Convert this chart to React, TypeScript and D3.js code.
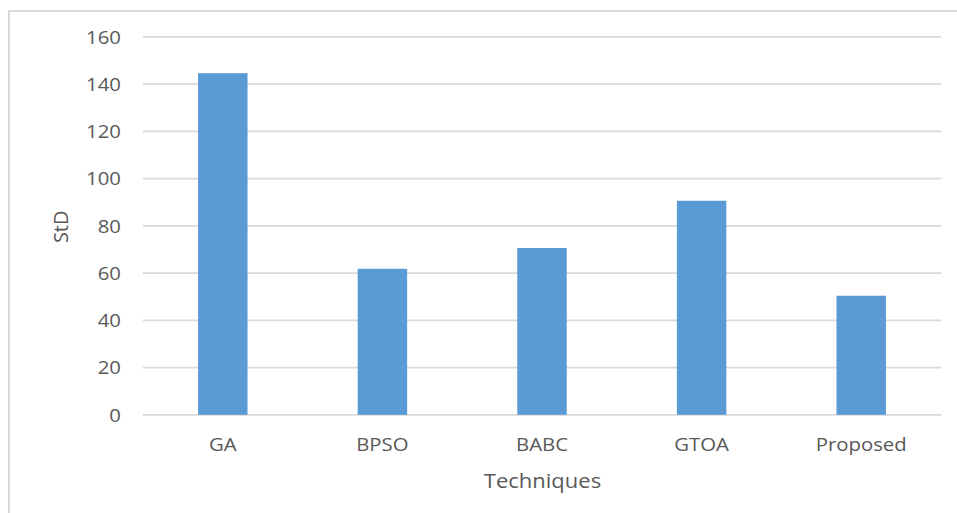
import React from "react";
import * as d3 from "d3";

// Standard deviation obtained by each technique
const techniques = ["GA", "BPSO", "BABC", "GTOA", "Proposed"];
const stdValues = [144.6, 61.8, 70.6, 90.6, 50.4];
const yTicks = [0, 20, 40, 60, 80, 100, 120, 140, 160];

const W = 957;
const H = 513;
const plot = { left: 143, right: 941, top: 36.8, bottom: 414.8 };

const FONT = "'Open Sans', 'Segoe UI', 'DejaVu Sans', sans-serif";
const TEXT = "#595959";
const GRID = "#d9d9d9";
const BAR = "#5b9bd5";

export default function App() {
  const x = d3
    .scaleBand<string>()
    .domain(techniques)
    .range([plot.left, plot.right])
    .paddingInner(0.69)
    .paddingOuter(0.345);

  const y = d3.scaleLinear().domain([0, 160]).range([plot.bottom, plot.top]);

  return (
    <svg
      width={W}
      height={H}
      style={{ position: "absolute", left: 0, top: 0, background: "#fff" }}
    >
      <rect x={0} y={0} width={W} height={H} fill="#fff" />
      {/* chart area frame */}
      <rect
        x={9}
        y={11}
        width={W + 20}
        height={H + 20}
        fill="none"
        stroke={GRID}
        strokeWidth={2}
      />

      {/* horizontal gridlines */}
      {yTicks.map((t) => (
        <line
          key={"g" + t}
          x1={plot.left}
          x2={plot.right}
          y1={y(t)}
          y2={y(t)}
          stroke={GRID}
          strokeWidth={1.8}
        />
      ))}

      {/* y tick labels */}
      {yTicks.map((t) => (
        <text
          key={"t" + t}
          transform={`translate(121,${y(t) + 6.8}) scale(1.1,1)`}
          textAnchor="end"
          fontFamily={FONT}
          fontSize={18.5}
          fill={TEXT}
        >
          {t}
        </text>
      ))}

      {/* bars */}
      {techniques.map((c, i) => (
        <rect
          key={c}
          x={x(c)}
          y={y(stdValues[i])}
          width={x.bandwidth()}
          height={y(0) - y(stdValues[i])}
          fill={BAR}
        />
      ))}

      {/* category labels */}
      {techniques.map((c) => (
        <text
          key={"c" + c}
          transform={`translate(${(x(c) as number) + x.bandwidth() / 2},450.5) scale(1.1,1)`}
          textAnchor="middle"
          fontFamily={FONT}
          fontSize={18.5}
          fill={TEXT}
        >
          {c}
        </text>
      ))}

      {/* axis titles */}
      <text
        transform={`translate(542.5,488) scale(1.1,1)`}
        textAnchor="middle"
        fontFamily={FONT}
        fontSize={20}
        fill={TEXT}
      >
        Techniques
      </text>
      <text
        transform={`translate(68,${(plot.top + plot.bottom) / 2 + 1}) rotate(-90)`}
        textAnchor="middle"
        fontFamily={FONT}
        fontSize={20}
        fill={TEXT}
      >
        StD
      </text>
    </svg>
  );
}
